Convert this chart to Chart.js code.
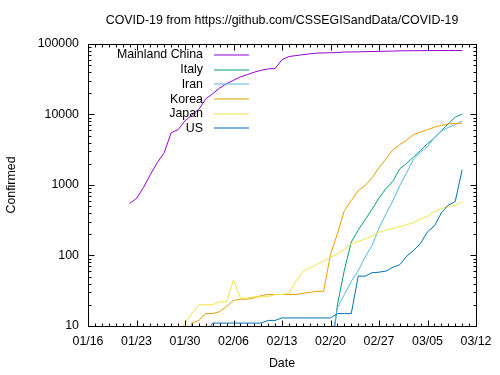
<!DOCTYPE html>
<html>
<head>
<meta charset="utf-8">
<script src="https://cdn.jsdelivr.net/npm/chart.js@4/dist/chart.umd.min.js"></script>
<style>html,body{margin:0;padding:0;background:#fff;}</style>
</head>
<body>
<div style="width:500px;height:375px"><canvas id="c" width="500" height="375"></canvas></div>
<script>
const titleText = "COVID-19 from https://github.com/CSSEGISandData/COVID-19";
const dates = [
  "01/22","01/23","01/24","01/25","01/26","01/27","01/28","01/29","01/30","01/31",
  "02/01","02/02","02/03","02/04","02/05","02/06","02/07","02/08","02/09","02/10",
  "02/11","02/12","02/13","02/14","02/15","02/16","02/17","02/18","02/19","02/20",
  "02/21","02/22","02/23","02/24","02/25","02/26","02/27","02/28","02/29",
  "03/01","03/02","03/03","03/04","03/05","03/06","03/07","03/08","03/09","03/10"
];
const seriesNames = ["Mainland China","Italy","Iran","Korea","Japan","US"];
const seriesColors = ["#9400d3","#009e73","#56b4e9","#e69f00","#f0e442","#0072b2"];
const mainlandChina = [548,643,920,1406,2075,2877,5509,6087,8141,9802,
  11891,16630,19716,23707,27440,30587,34110,36814,39829,42354,
  44386,44759,59895,66358,68413,70513,72434,74211,74619,75077,
  75550,77001,77022,77241,77754,78166,78600,78928,79356,
  79932,80136,80261,80386,80537,80690,80770,80823,80860,80887];
const italy = [null,null,null,null,null,null,null,null,null,2,
  2,2,2,2,2,2,3,3,3,3,
  3,3,3,3,3,3,3,3,3,3,
  20,62,155,229,322,453,655,888,1128,
  1694,2036,2502,3089,3858,4636,5883,7375,9172,10149];
const iran = [null,null,null,null,null,null,null,null,null,null,
  null,null,null,null,null,null,null,null,null,null,
  null,null,null,null,null,null,null,null,2,5,
  18,28,43,61,95,139,245,388,593,
  978,1501,2336,2922,3513,4747,5823,6566,7161,8042];
const korea = [1,1,2,2,3,4,4,4,4,11,
  12,15,15,16,19,23,24,24,25,27,
  28,28,28,28,28,29,30,31,31,104,
  204,433,602,833,977,1261,1766,2337,3150,
  3736,4335,5186,5621,6088,6593,7041,7314,7478,7513];
const japan = [2,1,2,2,4,4,7,7,11,15,
  20,20,20,22,22,45,25,25,26,26,
  26,28,28,29,43,59,66,74,84,94,
  105,122,147,159,170,189,214,228,241,
  256,274,293,331,360,420,461,502,511,581];
const us = [1,1,2,2,5,5,5,5,5,6,
  8,8,11,11,11,11,11,11,11,11,
  12,12,13,13,13,13,13,13,13,13,
  15,15,15,51,51,57,58,60,68,
  74,98,118,149,217,262,402,518,583,1640];
const xTickLabels = ["01/16","01/23","01/30","02/06","02/13","02/20","02/27","03/05","03/12"];
const yTickValues = [10,100,1000,10000,100000];

// day number counted from 01/16
function dayIndex(s){
  const m = parseInt(s.slice(0,2),10), d = parseInt(s.slice(3),10);
  const monthStart = {1:-16, 2:15, 3:44};
  return monthStart[m] + d;
}
const xMax = dayIndex(xTickLabels[xTickLabels.length-1]);
const allSeries = [mainlandChina, italy, iran, korea, japan, us];

const FONT = {family: "'Liberation Sans', Arial, sans-serif", size: 12.4};

const datasets = allSeries.map((vals, i) => ({
  label: seriesNames[i],
  data: vals.map((v, j) => ({x: dayIndex(dates[j]), y: v})),
  borderColor: seriesColors[i],
  backgroundColor: seriesColors[i],
  borderWidth: 1,
  pointRadius: 0,
  tension: 0,
  fill: false,
  order: allSeries.length - i
}));

const framePlugin = {
  id: 'frame',
  afterDraw(chart){
    const {ctx, chartArea: a, scales} = chart;
    const x = scales.x, y = scales.y;
    ctx.save();
    ctx.strokeStyle = '#000';
    ctx.lineWidth = 1;
    const L = Math.round(a.left)+0.5, R = Math.round(a.right)+0.5, T = Math.round(a.top)+0.5, B = Math.round(a.bottom)+0.5;
    ctx.beginPath();
    ctx.rect(L, T, R-L, B-T);
    // x ticks (daily minor, weekly major)
    for (let d = 0; d <= xMax; d++){
      const px = Math.round(x.getPixelForValue(d)) + 0.5;
      const len = (d % 7 === 0) ? 6 : 3;
      ctx.moveTo(px, B); ctx.lineTo(px, B - len);
      ctx.moveTo(px, T); ctx.lineTo(px, T + len);
    }
    // y ticks (log)
    for (let k = 0; k < yTickValues.length; k++){
      for (let m = 1; m <= 9; m++){
        const v = yTickValues[k] * m;
        if (v > yTickValues[yTickValues.length-1]) break;
        const py = Math.round(y.getPixelForValue(v)) + 0.5;
        const len = (m === 1) ? 6 : 3;
        ctx.moveTo(L, py); ctx.lineTo(L + len, py);
        ctx.moveTo(R, py); ctx.lineTo(R - len, py);
      }
    }
    ctx.stroke();
    // legend (gnuplot style, top-left inside)
    ctx.font = FONT.size + 'px ' + FONT.family;
    ctx.textAlign = 'right';
    ctx.textBaseline = 'middle';
    chart.data.datasets.forEach((ds, i) => {
      const ly = a.top + 11 + i * 14.7;
      ctx.fillStyle = '#000';
      ctx.fillText(ds.label, a.left + 115, ly);
      ctx.strokeStyle = ds.borderColor;
      ctx.lineWidth = 1.2;
      ctx.beginPath();
      ctx.moveTo(a.left + 126, Math.round(ly));
      ctx.lineTo(a.left + 161, Math.round(ly));
      ctx.stroke();
    });
    ctx.restore();
  }
};

new Chart(document.getElementById('c'), {
  type: 'line',
  data: {datasets},
  options: {
    responsive: false,
    animation: false,
    events: [],
    layout: {padding: {top: 0, left: 0, right: 24, bottom: 0}},
    plugins: {
      legend: {display: false},
      tooltip: {enabled: false},
      title: {
        display: true, text: titleText, color: '#000', fullSize: false,
        font: {family: FONT.family, size: FONT.size, weight: 'normal'},
        padding: {top: 13.5, bottom: 15.6}
      }
    },
    scales: {
      x: {
        type: 'linear', min: 0, max: xMax,
        grid: {display: false, drawTicks: false, tickLength: 0},
        border: {display: false},
        afterBuildTicks: s => { s.ticks = xTickLabels.map((_, i) => ({value: i * 7})); },
        afterFit: s => { s.height = 49; s.paddingLeft = 0; s.paddingRight = 0; },
        ticks: {
          autoSkip: false, maxRotation: 0, padding: 8, color: '#000',
          font: {family: FONT.family, size: FONT.size},
          callback: v => xTickLabels[Math.round(v / 7)]
        },
        title: {display: true, text: 'Date', color: '#000',
          font: {family: FONT.family, size: FONT.size}, padding: {top: 0, bottom: 4}}
      },
      y: {
        type: 'logarithmic', min: yTickValues[0], max: yTickValues[yTickValues.length-1],
        grid: {display: false, drawTicks: false, tickLength: 0},
        border: {display: false},
        afterBuildTicks: s => { s.ticks = yTickValues.map(v => ({value: v})); },
        afterFit: s => { s.width = 88; s.paddingTop = 0; s.paddingBottom = 0; },
        ticks: {
          autoSkip: false, padding: 9, color: '#000',
          font: {family: FONT.family, size: FONT.size},
          callback: v => String(v)
        },
        title: {display: true, text: 'Confirmed', color: '#000',
          font: {family: FONT.family, size: FONT.size}, padding: {top: 4.5, bottom: 0}}
      }
    }
  },
  plugins: [framePlugin]
});
</script>
</body>
</html>
